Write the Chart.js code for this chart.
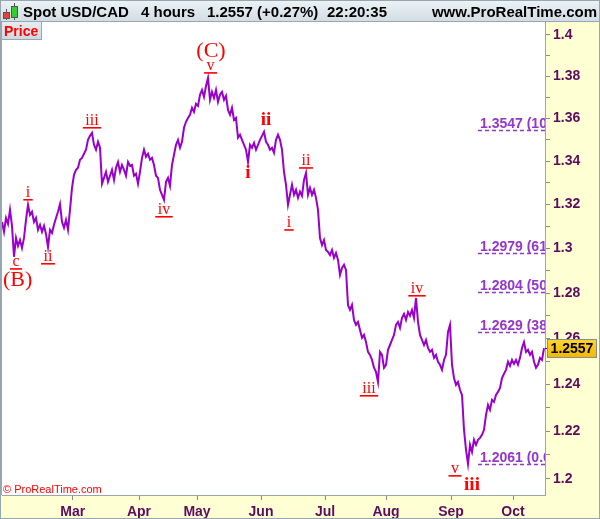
<!DOCTYPE html>
<html>
<head>
<meta charset="utf-8">
<script src="https://cdn.jsdelivr.net/npm/chart.js@4/dist/chart.umd.min.js"></script>
<style>
html, body { margin: 0; padding: 0; background: #fff; }
canvas { display: block; }
</style>
</head>
<body>
<canvas id="chart" width="600" height="519"></canvas>
<script>
// USD/CAD 4h closes (one value every ~2px)
var closes = [
  1.3120, 1.3075, 1.3138, 1.3111, 1.3175, 1.3102, 1.2962, 1.3047, 1.3011, 1.3038,
  1.3002, 1.3047, 1.3129, 1.3198, 1.3152, 1.3166, 1.3120, 1.3138, 1.3084, 1.3107,
  1.3075, 1.3102, 1.3065, 1.3006, 1.3084, 1.3070, 1.3107, 1.3138, 1.3166, 1.3202,
  1.3120, 1.3093, 1.3129, 1.3084, 1.3175, 1.3276, 1.3336, 1.3359, 1.3369, 1.3406,
  1.3415, 1.3434, 1.3453, 1.3499, 1.3518, 1.3532, 1.3476, 1.3453, 1.3490, 1.3462,
  1.3295, 1.3322, 1.3350, 1.3304, 1.3332, 1.3359, 1.3313, 1.3369, 1.3396, 1.3350,
  1.3382, 1.3359, 1.3332, 1.3396, 1.3378, 1.3382, 1.3332, 1.3341, 1.3295, 1.3350,
  1.3415, 1.3453, 1.3420, 1.3434, 1.3406, 1.3415, 1.3382, 1.3332, 1.3322, 1.3267,
  1.3244, 1.3221, 1.3304, 1.3322, 1.3285, 1.3382, 1.3429, 1.3476, 1.3499, 1.3462,
  1.3490, 1.3556, 1.3584, 1.3602, 1.3617, 1.3650, 1.3631, 1.3669, 1.3659, 1.3712,
  1.3735, 1.3702, 1.3754, 1.3792, 1.3688, 1.3726, 1.3697, 1.3735, 1.3678, 1.3712,
  1.3726, 1.3688, 1.3707, 1.3640, 1.3617, 1.3650, 1.3593, 1.3602, 1.3509, 1.3523,
  1.3499, 1.3476, 1.3453, 1.3396, 1.3476, 1.3462, 1.3485, 1.3453, 1.3476, 1.3499,
  1.3518, 1.3537, 1.3490, 1.3476, 1.3453, 1.3462, 1.3439, 1.3499, 1.3523, 1.3499,
  1.3453, 1.3350, 1.3290, 1.3198, 1.3244, 1.3290, 1.3244, 1.3267, 1.3230, 1.3258,
  1.3239, 1.3313, 1.3345, 1.3244, 1.3276, 1.3244, 1.3267, 1.3230, 1.3175, 1.3047,
  1.3015, 1.3038, 1.2993, 1.2984, 1.2970, 1.2993, 1.2957, 1.2979, 1.2948, 1.2881,
  1.2912, 1.2926, 1.2903, 1.2747, 1.2725, 1.2747, 1.2681, 1.2659, 1.2672, 1.2637,
  1.2602, 1.2615, 1.2584, 1.2541, 1.2528, 1.2506, 1.2472, 1.2454, 1.2411, 1.2541,
  1.2528, 1.2472, 1.2485, 1.2550, 1.2571, 1.2593, 1.2615, 1.2659, 1.2672, 1.2646,
  1.2690, 1.2708, 1.2681, 1.2716, 1.2699, 1.2725, 1.2690, 1.2778, 1.2672, 1.2615,
  1.2593, 1.2571, 1.2593, 1.2558, 1.2541, 1.2550, 1.2515, 1.2528, 1.2498, 1.2485,
  1.2463, 1.2506, 1.2528, 1.2628, 1.2659, 1.2485, 1.2428, 1.2398, 1.2411, 1.2377,
  1.2355, 1.2206, 1.2122, 1.2062, 1.2143, 1.2113, 1.2164, 1.2143, 1.2164, 1.2172,
  1.2185, 1.2206, 1.2270, 1.2312, 1.2291, 1.2334, 1.2325, 1.2355, 1.2368, 1.2385,
  1.2428, 1.2446, 1.2463, 1.2498, 1.2480, 1.2506, 1.2489, 1.2506, 1.2485, 1.2515,
  1.2558, 1.2584, 1.2541, 1.2550, 1.2528, 1.2541, 1.2498, 1.2472, 1.2485, 1.2515, 1.2506, 1.2557
];

// month starts, in sample units
var monthTicks = [35.4, 68.5, 97.5, 129.5, 161.5, 192, 224.5, 255.5];
var monthLabels = ['Mar', 'Apr', 'May', 'Jun', 'Jul', 'Aug', 'Sep', 'Oct'];

var priceTicks = [1.2, 1.22, 1.24, 1.26, 1.28, 1.3, 1.32, 1.34, 1.36, 1.38, 1.4];
var minorTicks = [1.21, 1.23, 1.25, 1.27, 1.29, 1.31, 1.33, 1.35, 1.37, 1.39];

var fibLevels = [1.3547, 1.2979, 1.2804, 1.2629, 1.2061];
var fibPercents = ['100.0%', '61.8%', '50.0%', '38.2%', '0.0%'];
var fibStart = 238;

// elliott wave labels: sample index, price at baseline, kind
var waveText = ['(C)', 'v', 'c', '(B)', 'i', 'ii', 'iii', 'iv', 'i', 'ii', 'i', 'ii', 'iii', 'iv', 'v', 'iii'];
var waveX = [104.5, 104.3, 7, 7.8, 13, 23, 45, 81, 123, 132, 143.5, 152, 183.5, 207.5, 226.5, 235];
var waveY = [1.3894, 1.3831, 1.2921, 1.2832, 1.3235, 1.2944, 1.3570, 1.3157, 1.3322, 1.3570, 1.3097, 1.3382, 1.2364, 1.2801, 1.2025, 1.1954];
var waveKind = ['big', 'minor', 'minor', 'big', 'minor', 'minor', 'minor', 'minor', 'bold', 'bold', 'minor', 'minor', 'minor', 'minor', 'minor', 'bold'];

var SANS = '"Liberation Sans", Arial, sans-serif';
var SERIF = '"Liberation Serif", "Times New Roman", serif';
var AXIS_TEXT = '#5e0b5e';

var decor = {
    id: 'decor',
    beforeDraw: function(chart) {
        var ctx = chart.ctx, a = chart.chartArea;
        ctx.save();
        ctx.fillStyle = '#ffffd4';
        ctx.fillRect(0, 0, chart.width, chart.height);
        ctx.fillStyle = '#ffffff';
        ctx.fillRect(a.left, a.top, a.right - a.left, a.bottom - a.top);

        // header bar
        var g = ctx.createLinearGradient(0, 0, 0, 21);
        g.addColorStop(0, '#edf3f6');
        g.addColorStop(1, '#d2dde4');
        ctx.fillStyle = g;
        ctx.fillRect(0, 0, chart.width, 21);
        ctx.strokeStyle = '#98a6b0';
        ctx.lineWidth = 1;
        ctx.beginPath();
        ctx.moveTo(0, 21.5); ctx.lineTo(chart.width, 21.5);
        ctx.stroke();

        // candle icon
        ctx.strokeStyle = '#555';
        ctx.beginPath();
        ctx.moveTo(6.5, 9); ctx.lineTo(6.5, 20);
        ctx.moveTo(14.5, 3); ctx.lineTo(14.5, 20);
        ctx.stroke();
        ctx.fillStyle = '#e8403a';
        ctx.fillRect(3.5, 12.5, 6, 6);
        ctx.strokeRect(3.5, 12.5, 6, 6);
        ctx.fillStyle = '#33cc33';
        ctx.fillRect(11.5, 6.5, 6, 11);
        ctx.strokeRect(11.5, 6.5, 6, 11);

        ctx.fillStyle = '#000';
        ctx.font = 'bold 15px ' + SANS;
        ctx.textBaseline = 'alphabetic';
        ctx.textAlign = 'left';
        ctx.fillText('Spot USD/CAD', 23, 17);
        ctx.fillText('4 hours', 141, 17);
        ctx.fillText('1.2557 (+0.27%)', 207, 17);
        ctx.fillText('22:20:35', 327, 17);
        ctx.textAlign = 'right';
        ctx.fillText('www.ProRealTime.com', 597, 17);
        ctx.restore();
    },
    afterDatasetsDraw: function(chart) {
        var ctx = chart.ctx, a = chart.chartArea;
        var xs = chart.scales.x, ys = chart.scales.y;
        ctx.save();
        ctx.beginPath();
        ctx.rect(a.left, a.top, a.right - a.left, a.bottom - a.top);
        ctx.clip();

        // fibonacci levels
        var x0 = xs.getPixelForValue(fibStart);
        ctx.strokeStyle = '#9436cc';
        ctx.fillStyle = '#9436cc';
        ctx.lineWidth = 1.5;
        ctx.setLineDash([4, 3]);
        ctx.font = 'bold 14px ' + SANS;
        ctx.textAlign = 'left';
        ctx.textBaseline = 'alphabetic';
        for (var k = 0; k < fibLevels.length; k++) {
            var y = Math.round(ys.getPixelForValue(fibLevels[k])) + 0.5;
            ctx.beginPath();
            ctx.moveTo(x0, y); ctx.lineTo(a.right, y);
            ctx.stroke();
            ctx.fillText(fibLevels[k].toFixed(4) + ' (' + fibPercents[k] + ')', x0 + 2, y - 3);
        }
        ctx.setLineDash([]);

        // wave counts
        ctx.fillStyle = '#ff0000';
        ctx.strokeStyle = '#ff0000';
        ctx.textAlign = 'center';
        for (var w = 0; w < waveText.length; w++) {
            var px = xs.getPixelForValue(waveX[w]);
            var py = ys.getPixelForValue(waveY[w]);
            if (waveKind[w] === 'big') ctx.font = '22px ' + SERIF;
            else if (waveKind[w] === 'bold') ctx.font = 'bold 19px ' + SERIF;
            else ctx.font = '16px ' + SERIF;
            ctx.fillText(waveText[w], px, py);
            if (waveKind[w] === 'minor') {
                var tw = ctx.measureText(waveText[w]).width;
                ctx.lineWidth = 1.6;
                ctx.beginPath();
                ctx.moveTo(px - tw / 2 - 2.5, py + 3);
                ctx.lineTo(px + tw / 2 + 2.5, py + 3);
                ctx.stroke();
            }
        }
        ctx.restore();
    },
    afterDraw: function(chart) {
        var ctx = chart.ctx, a = chart.chartArea;
        var ys = chart.scales.y;
        ctx.save();

        // "Price" tag
        var g = ctx.createLinearGradient(0, 22, 0, 39);
        g.addColorStop(0, '#e6edf1');
        g.addColorStop(1, '#cdd8df');
        ctx.fillStyle = g;
        ctx.fillRect(2, 22, 39, 17);
        ctx.strokeStyle = '#9aa6ae';
        ctx.lineWidth = 1;
        ctx.strokeRect(1.5, 21.5, 40, 18);
        ctx.fillStyle = '#ff0000';
        ctx.font = 'bold 14px ' + SANS;
        ctx.textAlign = 'left';
        ctx.textBaseline = 'alphabetic';
        ctx.fillText('Price', 4, 36);

        // copyright
        ctx.font = '11px ' + SANS;
        ctx.fillText('\u00a9 ProRealTime.com', 3, 493);

        // last price box
        var last = closes[closes.length - 1];
        var ly = Math.round(ys.getPixelForValue(last));
        ctx.strokeStyle = '#5e0b5e';
        ctx.beginPath();
        ctx.moveTo(a.right, ly + 0.5); ctx.lineTo(a.right + 3, ly + 0.5);
        ctx.stroke();
        var bg = ctx.createLinearGradient(0, ly - 9, 0, ly + 9);
        bg.addColorStop(0, '#ffd633');
        bg.addColorStop(1, '#f0b800');
        ctx.fillStyle = bg;
        ctx.fillRect(547.5, ly - 8.5, 49, 18);
        ctx.strokeStyle = '#8c8c8c';
        ctx.strokeRect(547.5, ly - 8.5, 49, 18);
        ctx.fillStyle = '#000';
        ctx.font = 'bold 14px ' + SANS;
        ctx.textAlign = 'center';
        ctx.textBaseline = 'middle';
        ctx.fillText(last.toFixed(4), 572, ly + 1);

        // outer frame
        ctx.strokeStyle = '#98a6b0';
        ctx.strokeRect(0.5, 0.5, chart.width - 1, chart.height - 1);
        ctx.beginPath();
        ctx.moveTo(1.5, 21); ctx.lineTo(1.5, a.bottom);
        ctx.stroke();
        ctx.restore();
    }
};

var points = closes.map(function(v, i) { return { x: i, y: v }; });

new Chart(document.getElementById('chart'), {
    type: 'line',
    data: {
        datasets: [{
            label: 'Spot USD/CAD',
            data: points,
            borderColor: '#9900cc',
            borderWidth: 2,
            pointRadius: 0,
            tension: 0,
            fill: false
        }]
    },
    options: {
        responsive: false,
        animation: false,
        devicePixelRatio: 1,
        layout: { padding: { top: 22, left: 2, right: 0, bottom: 0 } },
        plugins: {
            legend: { display: false },
            tooltip: { enabled: false }
        },
        scales: {
            x: {
                type: 'linear',
                min: 0,
                max: 271.5,
                afterBuildTicks: function(scale) {
                    scale.ticks = monthTicks.map(function(v) { return { value: v }; });
                },
                afterFit: function(scale) { scale.height = 24; },
                grid: { drawOnChartArea: false, tickLength: 5, color: '#8c8c8c' },
                border: { display: true, color: '#9aa6ae' },
                ticks: {
                    autoSkip: false,
                    maxRotation: 0,
                    padding: 4,
                    color: AXIS_TEXT,
                    font: { family: SANS, size: 14, weight: 'bold' },
                    callback: function(value, index) { return monthLabels[index]; }
                }
            },
            y: {
                type: 'logarithmic',
                position: 'right',
                min: 1.1933,
                max: 1.4063,
                afterBuildTicks: function(scale) {
                    var all = priceTicks.concat(minorTicks).sort(function(p, q) { return p - q; });
                    scale.ticks = all.map(function(v) { return { value: v }; });
                },
                afterFit: function(scale) { scale.width = 55; },
                grid: { drawOnChartArea: false, tickLength: 5, color: '#8c8c8c' },
                border: { display: true, color: '#9aa6ae' },
                ticks: {
                    autoSkip: false,
                    padding: 3,
                    color: AXIS_TEXT,
                    font: { family: SANS, size: 14, weight: 'bold' },
                    callback: function(value) {
                        return priceTicks.indexOf(value) >= 0 ? String(value) : '';
                    }
                }
            }
        }
    },
    plugins: [decor]
});
</script>
</body>
</html>
